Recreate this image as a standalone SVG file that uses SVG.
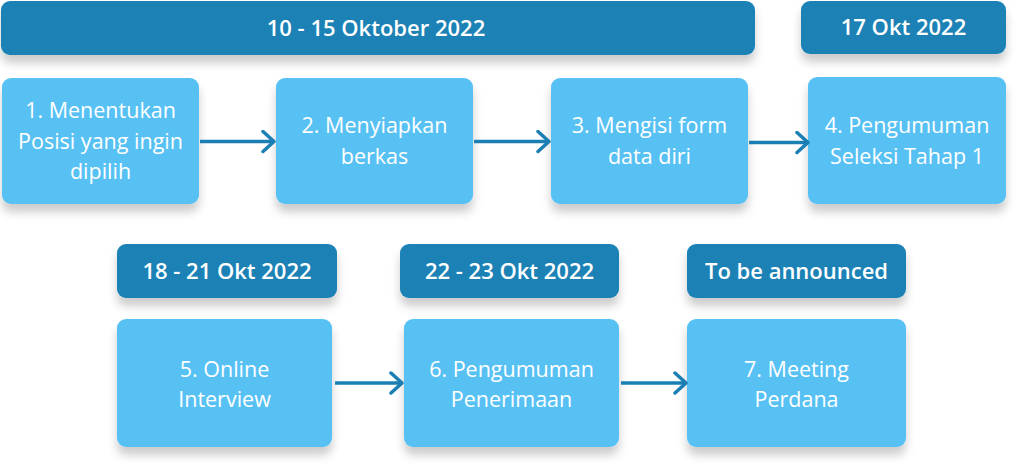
<svg xmlns="http://www.w3.org/2000/svg" width="1024" height="467" viewBox="0 0 1024 467">
<defs>
<filter id="sh" x="-10%" y="-20%" width="120%" height="160%">
<feDropShadow dx="0" dy="8" stdDeviation="5" flood-color="#000" flood-opacity="0.2"/>
</filter>
<marker id="ah" markerWidth="16" markerHeight="24" refX="13" refY="12" orient="auto" markerUnits="userSpaceOnUse">
<path d="M2,2 L13,12 L2,22" fill="none" stroke="#1B7FB3" stroke-width="3.5" stroke-linecap="round" stroke-linejoin="round"/>
</marker>
</defs>
<style>
.hdr{fill:#1A82B6;filter:url(#sh)}
.box{fill:#58C1F4;filter:url(#sh)}
.ht{font-family:"Open Sans",Lato,sans-serif;font-weight:600;font-size:22px;fill:#fff;text-anchor:middle}
.bt{font-family:"Open Sans",Lato,sans-serif;font-weight:500;font-size:21.5px;fill:#fff;text-anchor:middle}
.con{stroke:#1B7FB3;stroke-width:3.5;fill:none;marker-end:url(#ah)}
</style>
<rect width="1024" height="467" fill="#fff"/>
<g id="h1"><rect class="hdr" x="1" y="1" width="754" height="54" rx="9"/><text class="ht" x="376" y="36">10 - 15 Oktober 2022</text></g>
<g id="h2"><rect class="hdr" x="801" y="1" width="205" height="53" rx="9"/><text class="ht" x="903.5" y="35">17 Okt 2022</text></g>
<g id="n1"><rect class="box" x="2" y="78" width="197" height="126" rx="9"/><text class="bt" x="100.5" y="118">1. Menentukan<tspan x="100.5" dy="30.5">Posisi yang ingin</tspan><tspan x="100.5" dy="30.5">dipilih</tspan></text></g>
<g id="n2"><rect class="box" x="276" y="78" width="197" height="126" rx="9"/><text class="bt" x="374.5" y="133">2. Menyiapkan<tspan x="374.5" dy="30.5">berkas</tspan></text></g>
<g id="n3"><rect class="box" x="551" y="78" width="197" height="126" rx="9"/><text class="bt" x="649.5" y="133">3. Mengisi form<tspan x="649.5" dy="30.5">data diri</tspan></text></g>
<g id="n4"><rect class="box" x="808" y="77" width="198" height="127" rx="9"/><text class="bt" x="907" y="133">4. Pengumuman<tspan x="907" dy="31">Seleksi Tahap 1</tspan></text></g>
<g id="h5"><rect class="hdr" x="117" y="244" width="220" height="54" rx="9"/><text class="ht" x="227" y="279">18 - 21 Okt 2022</text></g>
<g id="h6"><rect class="hdr" x="400" y="244" width="219" height="54" rx="9"/><text class="ht" x="509.5" y="279">22 - 23 Okt 2022</text></g>
<g id="h7"><rect class="hdr" x="687" y="244" width="219" height="54" rx="9"/><text class="ht" x="796.5" y="279">To be announced</text></g>
<g id="n5"><rect class="box" x="117" y="319" width="215" height="128" rx="9"/><text class="bt" x="224.5" y="377">5. Online<tspan x="224.5" dy="30">Interview</tspan></text></g>
<g id="n6"><rect class="box" x="404" y="319" width="215" height="128" rx="9"/><text class="bt" x="511.5" y="377">6. Pengumuman<tspan x="511.5" dy="30">Penerimaan</tspan></text></g>
<g id="n7"><rect class="box" x="687" y="319" width="219" height="128" rx="9"/><text class="bt" x="796.5" y="377">7. Meeting<tspan x="796.5" dy="30">Perdana</tspan></text></g>
<g id="connectors">
<line class="con" x1="200" y1="141.5" x2="274" y2="141.5"/>
<line class="con" x1="474" y1="141.5" x2="549" y2="141.5"/>
<line class="con" x1="749" y1="142.5" x2="808" y2="142.5"/>
<line class="con" x1="335" y1="383" x2="402" y2="383"/>
<line class="con" x1="621" y1="383" x2="686" y2="383"/>
</g>
</svg>
